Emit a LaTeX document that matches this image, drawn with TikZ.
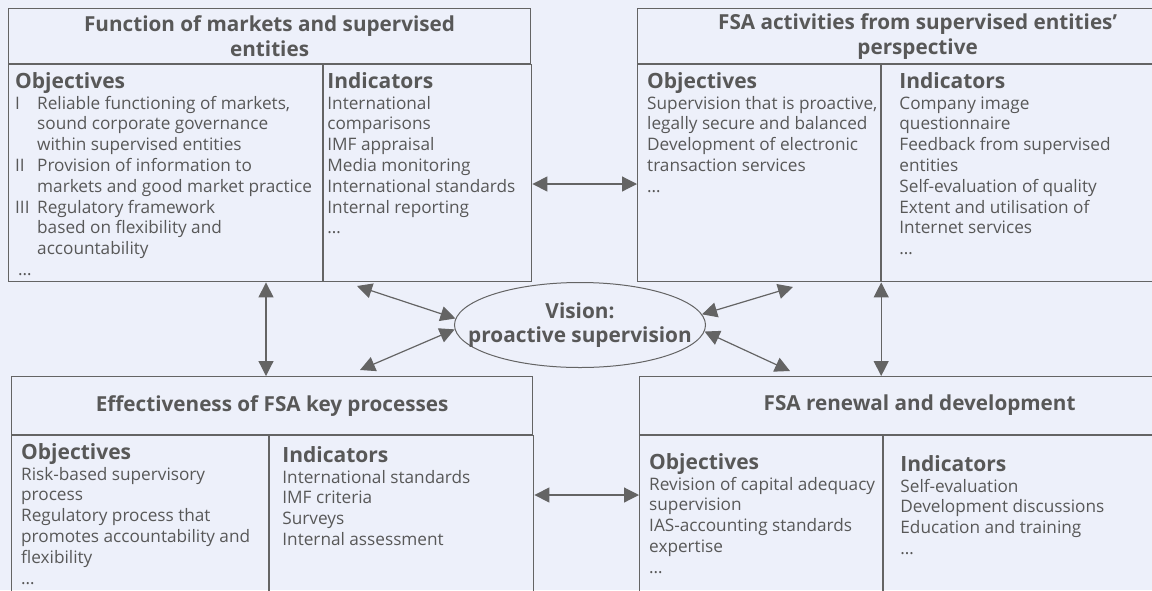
\documentclass[tikz,border=0pt]{standalone}
\usepackage{fontspec}
\setmainfont{Open Sans}
\usetikzlibrary{arrows.meta,shapes.geometric}
\definecolor{bgblue}{RGB}{237,240,250}
\definecolor{inkgray}{RGB}{88,88,88}
\definecolor{linegray}{RGB}{100,100,100}
\newcommand{\numlab}[1]{\makebox[22pt][l]{#1}}
\newcommand{\numind}{\hspace*{22pt}}
\newcommand{\colhead}[1]{{\fontsize{21}{24}\selectfont\bfseries #1}}
\tikzset{
  frame/.style={draw=linegray, line width=1.2pt, inner sep=0pt, anchor=north west},
  boxtitle/.style={frame, text=inkgray, align=center, font=\fontsize{20.7}{25}\selectfont\bfseries},
  coltext/.style={anchor=north west, inner sep=0pt, align=left, text=inkgray, font=\fontsize{17.2}{20.8}\selectfont},
  link/.style={draw=linegray, line width=1.2pt, {Triangle[length=15pt,width=15pt]}-{Triangle[length=15pt,width=15pt]}},
  vision/.style={ellipse, draw=linegray, line width=1pt, inner sep=0pt, minimum width=251pt, minimum height=85pt}
}

\begin{document}
\begin{tikzpicture}[x=1pt,y=-1pt]
        \useasboundingbox (0,0) rectangle (1152,590);
        \fill[bgblue] (0,0) rectangle (1152,590);
        \clip (0,0) rectangle (1152,590);
        %function of markets
        \node[boxtitle, minimum width=522pt, minimum height=55pt] (fm-t) at (8,8) {Function of markets and supervised\\entities};
        \node[frame, minimum width=314pt, minimum height=217pt] (fm-l) at (fm-t.south west) {};
        \node[frame, minimum width=208pt, minimum height=217pt] (fm-r) at (fm-l.north east) {};
        \node[coltext] (fm-lt) at ([xshift=7pt,yshift=-8pt]fm-l.north west) {\colhead{Objectives}\\
          \numlab{I}Reliable functioning of markets,\\ \numind sound corporate governance\\ \numind within supervised entities\\
          \numlab{II}Provision of information to\\ \numind markets and good market practice\\
          \numlab{III}Regulatory framework\\ \numind based on flexibility and\\ \numind accountability\\ \,\dots};
        \node[coltext] (fm-rt) at ([xshift=4pt,yshift=-8pt]fm-r.north west) {\colhead{Indicators}\\
          International\\ comparisons\\ IMF appraisal\\ Media monitoring\\ International standards\\ Internal reporting\\ \dots};
        %supervised entities perspective
        \node[boxtitle, minimum width=560pt, minimum height=55pt] (fa-t) at (637,8) {FSA activities from supervised entities’\\perspective};
        \node[frame, minimum width=243pt, minimum height=217pt] (fa-l) at (fa-t.south west) {};
        \node[frame, minimum width=317pt, minimum height=217pt] (fa-r) at (fa-l.north east) {};
        \node[coltext] (fa-lt) at ([xshift=10pt,yshift=-8pt]fa-l.north west) {\colhead{Objectives}\\
          Supervision that is proactive,\\ legally secure and balanced\\ Development of electronic\\ transaction services\\ \dots};
        \node[coltext] (fa-rt) at ([xshift=18pt,yshift=-8pt]fa-r.north west) {\colhead{Indicators}\\
          Company image\\ questionnaire\\ Feedback from supervised\\ entities\\ Self-evaluation of quality\\
          Extent and utilisation of\\ Internet services\\ \dots};
        %key processes
        \node[boxtitle, minimum width=521pt, minimum height=58pt] (ek-t) at (11,376) {Effectiveness of FSA key processes};
        \node[frame, minimum width=257pt, minimum height=200pt] (ek-l) at (ek-t.south west) {};
        \node[frame, minimum width=264pt, minimum height=200pt] (ek-r) at (ek-l.north east) {};
        \node[coltext] (ek-lt) at ([xshift=10pt,yshift=-8pt]ek-l.north west) {\colhead{Objectives}\\
          Risk-based supervisory\\ process\\ Regulatory process that\\ promotes accountability and\\ flexibility\\ \dots};
        \node[coltext] (ek-rt) at ([xshift=13pt,yshift=-11pt]ek-r.north west) {\colhead{Indicators}\\
          International standards\\ IMF criteria\\ Surveys\\ Internal assessment};
        %renewal
        \node[boxtitle, minimum width=560pt, minimum height=58pt] (rd-t) at (639,376) {FSA renewal and development};
        \node[frame, minimum width=243pt, minimum height=200pt] (rd-l) at (rd-t.south west) {};
        \node[frame, minimum width=317pt, minimum height=200pt] (rd-r) at (rd-l.north east) {};
        \node[coltext] (rd-lt) at ([xshift=10pt,yshift=-18pt]rd-l.north west) {\colhead{Objectives}\\
          Revision of capital adequacy\\ supervision\\ IAS-accounting standards\\ expertise\\ \dots};
        \node[coltext] (rd-rt) at ([xshift=17pt,yshift=-20pt]rd-r.north west) {\colhead{Indicators}\\
          Self-evaluation\\ Development discussions\\ Education and training\\ \dots};
        %vision
        \node[vision] (vis) at (580,325) {};
        \node[text=inkgray, align=center, font=\fontsize{20.8}{24}\selectfont\bfseries] (vis-t) at (vis) {Vision:\\proactive supervision};
        %arrows
        \coordinate (d-ul) at (357,286);
        \coordinate (d-ll) at (360,370);
        \coordinate (d-ur) at (793,287);
        \coordinate (d-lr) at (790,371);
        \draw[link] (fm-l.south -| 266,0) -- (ek-t.north -| 266,0);
        \draw[link] (fa-r.south west) -- (rd-t.north -| fa-r.south west);
        \draw[link] (fm-r.east |- 0,184) -- (fa-l.west |- 0,184);
        \draw[link] (ek-r.east |- 0,495) -- (rd-l.west |- 0,495);
        \draw[link] (d-ul) -- (vis.177);
        \draw[link] (d-ll) -- (vis.182);
        \draw[link] (vis.5) -- (d-ur);
        \draw[link] (vis.357) -- (d-lr);
\end{tikzpicture}
\end{document}
